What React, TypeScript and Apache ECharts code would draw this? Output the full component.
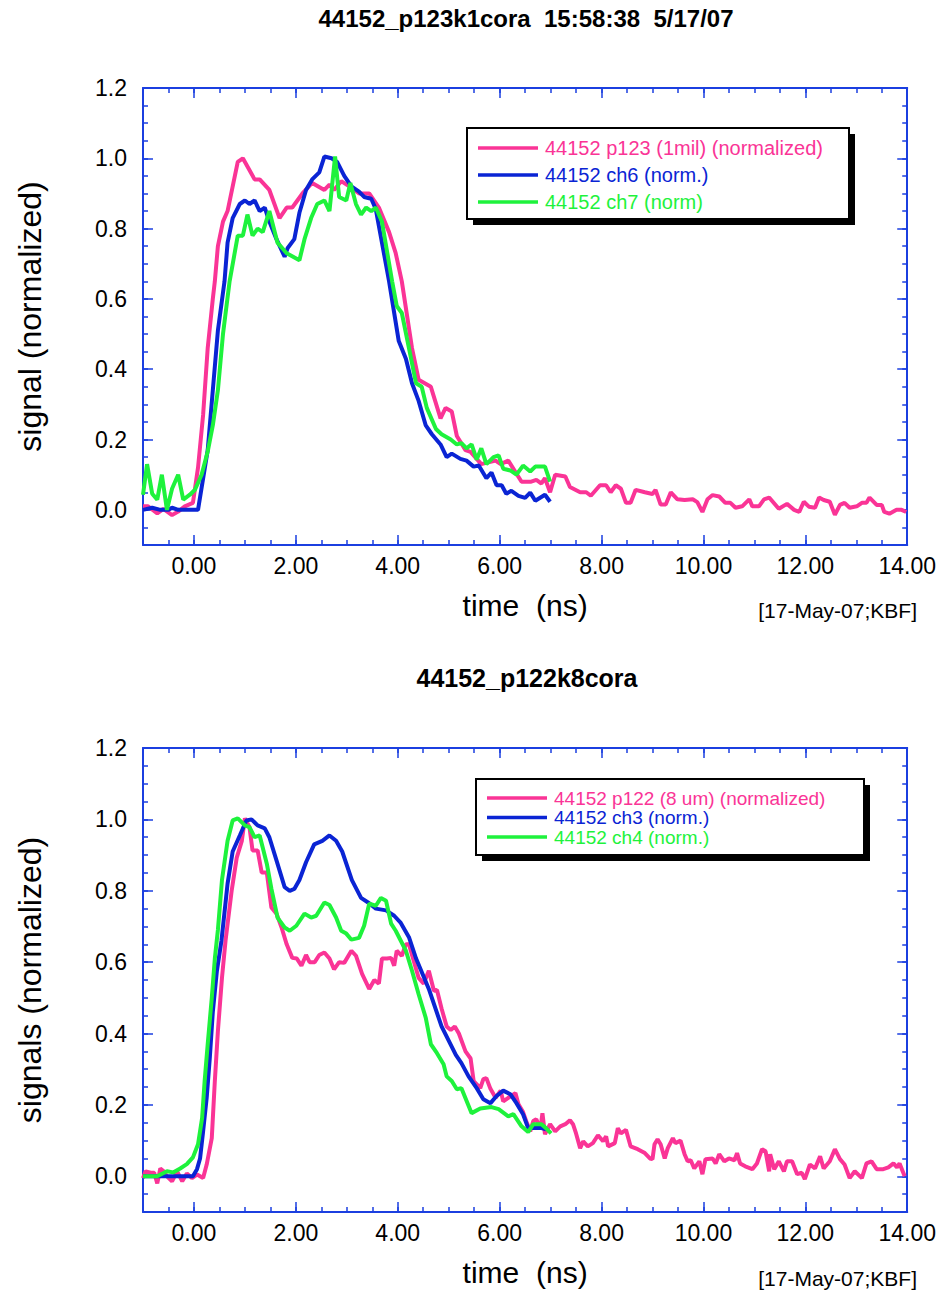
import React, { useEffect, useRef } from "react";
import * as echarts from "echarts";

// ---------- data ----------
const xMajor = [0, 2, 4, 6, 8, 10, 12, 14];
const yMajor = [0, 0.2, 0.4, 0.6, 0.8, 1.0, 1.2];

const topTitle = "44152_p123k1cora  15:58:38  5/17/07";
const bottomTitle = "44152_p122k8cora";
const stamp = "[17-May-07;KBF]";

const topNames = ["44152 p123 (1mil) (normalized)", "44152 ch6 (norm.)", "44152 ch7 (norm)"];
const bottomNames = ["44152 p122 (8 um) (normalized)", "44152 ch3 (norm.)", "44152 ch4 (norm.)"];

const p123 = [[-1.0,0.01],[-0.9,0.01],[-0.72,-0.01],[-0.6,0.003],[-0.43,-0.015],[-0.31,-0.005],[-0.18,0.01],[-0.02,0.02],[0.08,0.12],[0.18,0.27],[0.27,0.46],[0.37,0.6],[0.41,0.65],[0.47,0.75],[0.57,0.82],[0.66,0.85],[0.86,0.99],[0.96,1.0],[1.19,0.94],[1.29,0.94],[1.48,0.91],[1.68,0.83],[1.82,0.86],[1.93,0.86],[2.13,0.9],[2.32,0.93],[2.56,0.91],[2.66,0.925],[2.75,0.91],[2.89,0.935],[3.05,0.92],[3.24,0.9],[3.44,0.9],[3.63,0.86],[3.83,0.79],[3.96,0.73],[4.08,0.65],[4.28,0.46],[4.41,0.37],[4.65,0.35],[4.84,0.26],[4.94,0.29],[5.06,0.28],[5.16,0.21],[5.33,0.17],[5.43,0.165],[5.64,0.13],[5.92,0.14],[6.02,0.13],[6.17,0.14],[6.43,0.08],[6.62,0.08],[6.72,0.085],[6.82,0.075],[6.89,0.09],[6.99,0.05],[7.09,0.1],[7.29,0.095],[7.38,0.065],[7.58,0.05],[7.7,0.05],[7.79,0.04],[7.97,0.07],[8.09,0.07],[8.18,0.05],[8.28,0.07],[8.38,0.06],[8.48,0.02],[8.57,0.02],[8.67,0.057],[8.85,0.05],[9.0,0.045],[9.06,0.057],[9.16,0.015],[9.26,0.015],[9.36,0.05],[9.49,0.03],[9.63,0.028],[9.79,0.03],[9.88,0.022],[9.98,-0.006],[10.08,0.03],[10.18,0.042],[10.31,0.038],[10.43,0.02],[10.53,0.02],[10.63,0.006],[10.76,0.01],[10.9,0.03],[10.96,0.01],[11.09,0.01],[11.19,0.03],[11.29,0.035],[11.48,0.003],[11.64,0.017],[11.78,0],[11.88,-0.006],[11.97,0.023],[12.07,0.009],[12.19,0.006],[12.27,0.035],[12.36,0.028],[12.48,0.023],[12.58,-0.014],[12.68,0.014],[12.77,0.02],[12.87,0.006],[13.01,0.01],[13.11,0.02],[13.2,0.02],[13.26,0.035],[13.4,0.014],[13.5,0.014],[13.55,-0.006],[13.65,-0.011],[13.79,0],[13.89,0],[13.98,-0.006]];

const ch6 = [[-1.0,0],[-0.82,0.006],[-0.66,0],[-0.5,0],[-0.43,0.006],[-0.31,0],[0.08,0],[0.27,0.17],[0.37,0.34],[0.47,0.51],[0.6,0.65],[0.66,0.76],[0.76,0.83],[0.9,0.87],[1.0,0.88],[1.09,0.87],[1.19,0.88],[1.29,0.85],[1.39,0.86],[1.48,0.82],[1.62,0.77],[1.78,0.72],[1.84,0.745],[1.97,0.77],[2.07,0.845],[2.2,0.91],[2.32,0.94],[2.46,0.96],[2.56,1.005],[2.7,1.0],[2.81,0.99],[2.95,0.95],[3.09,0.92],[3.24,0.905],[3.34,0.89],[3.48,0.885],[3.57,0.855],[3.69,0.76],[3.83,0.65],[4.02,0.48],[4.16,0.43],[4.28,0.36],[4.41,0.31],[4.55,0.24],[4.67,0.215],[4.84,0.186],[4.96,0.15],[5.06,0.16],[5.23,0.145],[5.35,0.14],[5.49,0.123],[5.59,0.126],[5.74,0.09],[5.84,0.106],[5.94,0.07],[6.04,0.07],[6.13,0.046],[6.23,0.054],[6.37,0.04],[6.5,0.034],[6.6,0.049],[6.7,0.026],[6.89,0.043],[6.99,0.023]];

const ch7 = [[-1.0,0.043],[-0.92,0.13],[-0.82,0.046],[-0.72,0.029],[-0.63,0.1],[-0.53,0],[-0.43,0.06],[-0.31,0.1],[-0.21,0.029],[-0.08,0.043],[0.02,0.057],[0.15,0.1],[0.27,0.166],[0.37,0.24],[0.47,0.34],[0.57,0.5],[0.7,0.65],[0.86,0.78],[0.96,0.78],[1.05,0.84],[1.15,0.78],[1.25,0.8],[1.35,0.79],[1.48,0.85],[1.64,0.76],[1.82,0.73],[2.07,0.71],[2.17,0.77],[2.3,0.83],[2.42,0.87],[2.56,0.88],[2.66,0.85],[2.77,1.005],[2.85,0.89],[2.99,0.88],[3.07,0.93],[3.18,0.87],[3.28,0.84],[3.38,0.86],[3.48,0.85],[3.57,0.86],[3.69,0.82],[3.89,0.65],[3.98,0.58],[4.08,0.56],[4.22,0.46],[4.36,0.36],[4.47,0.35],[4.57,0.29],[4.75,0.23],[4.86,0.215],[5.04,0.2],[5.16,0.186],[5.25,0.19],[5.35,0.175],[5.45,0.186],[5.55,0.143],[5.64,0.175],[5.74,0.13],[5.88,0.15],[5.98,0.155],[6.07,0.117],[6.21,0.112],[6.33,0.1],[6.46,0.126],[6.6,0.109],[6.7,0.123],[6.89,0.123],[6.99,0.08]];

const p122 = [[-1.0,-0.005],[-0.95,0.014],[-0.85,0.01],[-0.78,0.01],[-0.72,-0.02],[-0.66,0.022],[-0.6,0.015],[-0.53,0],[-0.43,-0.014],[-0.33,0.014],[-0.23,-0.014],[-0.14,0.008],[-0.04,-0.005],[0.06,0.005],[0.18,-0.005],[0.25,0.033],[0.35,0.107],[0.41,0.267],[0.47,0.407],[0.55,0.556],[0.62,0.66],[0.74,0.8],[0.84,0.893],[0.94,0.94],[1.0,1.003],[1.09,0.978],[1.15,0.913],[1.25,0.913],[1.33,0.851],[1.43,0.851],[1.52,0.753],[1.62,0.736],[1.72,0.697],[1.82,0.65],[1.93,0.612],[2.02,0.61],[2.11,0.59],[2.2,0.62],[2.27,0.6],[2.37,0.6],[2.46,0.62],[2.56,0.627],[2.66,0.61],[2.75,0.58],[2.85,0.6],[2.95,0.598],[3.09,0.632],[3.18,0.618],[3.3,0.567],[3.44,0.525],[3.54,0.55],[3.63,0.54],[3.69,0.61],[3.79,0.61],[3.87,0.612],[3.93,0.59],[3.98,0.632],[4.08,0.618],[4.16,0.65],[4.22,0.65],[4.28,0.62],[4.41,0.556],[4.51,0.54],[4.61,0.576],[4.71,0.52],[4.77,0.522],[4.86,0.47],[4.96,0.42],[5.04,0.41],[5.12,0.42],[5.2,0.4],[5.33,0.35],[5.43,0.33],[5.49,0.267],[5.62,0.247],[5.68,0.272],[5.74,0.275],[5.82,0.245],[5.92,0.22],[6.02,0.24],[6.07,0.21],[6.17,0.22],[6.31,0.233],[6.37,0.202],[6.46,0.18],[6.52,0.155],[6.6,0.126],[6.66,0.155],[6.72,0.16],[6.8,0.132],[6.84,0.177],[6.89,0.118],[6.99,0.146],[7.09,0.126],[7.19,0.14],[7.29,0.146],[7.38,0.157],[7.44,0.146],[7.5,0.12],[7.58,0.079],[7.64,0.098],[7.73,0.084],[7.83,0.093],[7.93,0.115],[8.03,0.098],[8.09,0.112],[8.13,0.084],[8.26,0.093],[8.32,0.135],[8.38,0.12],[8.48,0.13],[8.57,0.084],[8.71,0.076],[8.85,0.065],[8.95,0.05],[9.0,0.048],[9.04,0.09],[9.1,0.104],[9.16,0.09],[9.24,0.05],[9.3,0.079],[9.4,0.107],[9.45,0.093],[9.55,0.1],[9.63,0.062],[9.69,0.042],[9.75,0.045],[9.82,0.022],[9.92,0.042],[9.98,0.006],[10.04,0.048],[10.18,0.05],[10.24,0.036],[10.31,0.062],[10.41,0.042],[10.5,0.05],[10.61,0.045],[10.66,0.065],[10.72,0.036],[10.82,0.028],[10.96,0.02],[11.05,0.036],[11.15,0.076],[11.22,0.07],[11.29,0.014],[11.31,0.062],[11.39,0.02],[11.48,0.042],[11.58,0.014],[11.64,0.042],[11.74,0.042],[11.84,0.006],[11.93,0.01],[11.99,-0.008],[12.09,0.033],[12.19,0.022],[12.29,0.056],[12.36,0.022],[12.48,0.042],[12.58,0.076],[12.68,0.048],[12.77,0.033],[12.87,-0.005],[12.97,0.014],[13.11,-0.005],[13.2,0.036],[13.3,0.042],[13.4,0.02],[13.53,0.02],[13.63,0.025],[13.73,0.036],[13.8,0.025],[13.85,0.036],[13.95,0]];

const ch3 = [[-1.0,0],[-0.02,0],[0.06,0.02],[0.12,0.05],[0.18,0.126],[0.25,0.22],[0.31,0.33],[0.37,0.46],[0.45,0.575],[0.54,0.66],[0.66,0.82],[0.76,0.91],[0.9,0.955],[1.03,0.997],[1.13,1.0],[1.25,0.983],[1.39,0.975],[1.48,0.95],[1.62,0.885],[1.78,0.81],[1.88,0.8],[1.97,0.805],[2.07,0.83],[2.2,0.88],[2.36,0.93],[2.52,0.94],[2.66,0.955],[2.79,0.94],[2.91,0.91],[3.1,0.83],[3.28,0.78],[3.44,0.765],[3.57,0.75],[3.77,0.745],[3.93,0.73],[4.06,0.71],[4.22,0.67],[4.36,0.61],[4.61,0.525],[4.86,0.42],[5.14,0.34],[5.25,0.317],[5.39,0.28],[5.55,0.247],[5.68,0.216],[5.82,0.205],[5.94,0.225],[6.07,0.24],[6.21,0.23],[6.33,0.205],[6.46,0.174],[6.56,0.135],[6.7,0.135],[6.82,0.135],[6.91,0.132]];

const ch4 = [[-1.0,0],[-0.72,0],[-0.53,0.014],[-0.41,0.011],[-0.27,0.022],[-0.14,0.034],[-0.02,0.053],[0.08,0.09],[0.16,0.163],[0.21,0.267],[0.27,0.37],[0.35,0.5],[0.41,0.61],[0.47,0.69],[0.55,0.83],[0.66,0.94],[0.76,0.997],[0.86,1.003],[1.0,0.983],[1.09,0.978],[1.19,0.95],[1.29,0.955],[1.43,0.876],[1.52,0.806],[1.64,0.725],[1.78,0.697],[1.88,0.688],[2.01,0.702],[2.17,0.736],[2.3,0.725],[2.4,0.73],[2.56,0.767],[2.66,0.76],[2.79,0.725],[2.89,0.688],[2.99,0.68],[3.09,0.663],[3.24,0.668],[3.34,0.702],[3.44,0.764],[3.57,0.758],[3.67,0.78],[3.77,0.772],[3.87,0.708],[3.96,0.688],[4.06,0.66],[4.16,0.632],[4.28,0.576],[4.41,0.51],[4.55,0.444],[4.65,0.37],[4.77,0.345],[4.9,0.314],[4.96,0.28],[5.06,0.267],[5.16,0.244],[5.25,0.247],[5.45,0.177],[5.62,0.19],[5.84,0.194],[5.98,0.188],[6.17,0.168],[6.27,0.174],[6.43,0.14],[6.56,0.124],[6.66,0.146],[6.82,0.146],[6.91,0.135],[7.01,0.12]];

// ---------- styles ----------
const FONT = "'Liberation Sans', Arial, Helvetica, sans-serif";
const AX = "#1b3fe0";
const PINK = "#fa3496";
const BLUE = "#0a24d4";
const GREEN = "#1ef23c";
const COLORS = [PINK, BLUE, GREEN];

const grids = [
  { left: 143, top: 88, width: 768, height: 457 },
  { left: 143, top: 748, width: 768, height: 464 },
];

function xAxes(g: number) {
  const base = { gridIndex: g, type: "value", min: -1, max: 14, splitLine: { show: false } };
  const major = (pos: string) => ({
    ...base,
    position: pos,
    axisLine: { show: true, onZero: false, lineStyle: { color: AX, width: 2 } },
    axisTick: { show: true, inside: true, length: 10, customValues: xMajor, lineStyle: { color: AX, width: 1.5 } },
    axisLabel: pos === "bottom"
      ? { show: true, customValues: xMajor, formatter: (v: number) => v.toFixed(2), color: "#000", fontSize: 23, fontFamily: FONT, margin: 9 }
      : { show: false },
    name: pos === "bottom" ? "time  (ns)" : "",
    nameLocation: "middle",
    nameGap: 45,
    nameTextStyle: { color: "#000", fontSize: 30, fontFamily: FONT },
  });
  const minor = (pos: string) => ({
    ...base,
    position: pos,
    interval: 0.5,
    axisLine: { show: false, onZero: false },
    axisTick: { show: true, inside: true, length: 5, lineStyle: { color: AX, width: 1.5 } },
    axisLabel: { show: false },
  });
  return [major("bottom"), minor("bottom"), major("top"), minor("top")];
}

function yAxes(g: number, name: string) {
  const base = { gridIndex: g, type: "value", min: -0.1, max: 1.2, splitLine: { show: false } };
  const major = (pos: string) => ({
    ...base,
    position: pos,
    axisLine: { show: true, onZero: false, lineStyle: { color: AX, width: 2 } },
    axisTick: { show: true, inside: true, length: 10, customValues: yMajor, lineStyle: { color: AX, width: 1.5 } },
    axisLabel: pos === "left"
      ? { show: true, customValues: yMajor, formatter: (v: number) => v.toFixed(1), color: "#000", fontSize: 23, fontFamily: FONT, margin: 16 }
      : { show: false },
    name: pos === "left" ? name : "",
    nameLocation: "middle",
    nameGap: 97,
    nameTextStyle: { color: "#000", fontSize: 32, fontFamily: FONT },
  });
  const minor = (pos: string) => ({
    ...base,
    position: pos,
    interval: 0.05,
    axisLine: { show: false, onZero: false },
    axisTick: { show: true, inside: true, length: 5, lineStyle: { color: AX, width: 1.5 } },
    axisLabel: { show: false },
  });
  return [major("left"), minor("left"), major("right"), minor("right")];
}

function legendBox(x: number, y: number, w: number, h: number, rows: number[], lineX: number, textX: number, names: string[], fs: number) {
  const children: any[] = [
    { type: "rect", shape: { x: x + 6, y: y + 6, width: w, height: h }, style: { fill: "#000" } },
    { type: "rect", shape: { x, y, width: w, height: h }, style: { fill: "#fff", stroke: "#000", lineWidth: 2 } },
  ];
  names.forEach((n, i) => {
    children.push({ type: "line", shape: { x1: lineX, y1: rows[i], x2: lineX + 60, y2: rows[i] }, style: { stroke: COLORS[i], lineWidth: 3.5 } });
    children.push({ type: "text", x: textX, y: rows[i], style: { text: n, fill: COLORS[i], font: `${fs}px ${FONT}`, align: "left", verticalAlign: "middle" } });
  });
  return { type: "group", children };
}

function lineSeries(name: string, data: number[][], color: string, axis: number) {
  return {
    name, type: "line", data, xAxisIndex: axis, yAxisIndex: axis,
    showSymbol: false, symbol: "none", clip: true,
    lineStyle: { color, width: 4 }, itemStyle: { color },
  };
}

export default function App() {
  const ref = useRef<HTMLDivElement>(null);
  useEffect(() => {
    document.body.style.margin = "0";
    if (!ref.current) return;
    const chart = echarts.init(ref.current, null, { renderer: "svg" });
    chart.setOption({
      animation: false,
      backgroundColor: "#fff",
      grid: grids,
      xAxis: [...xAxes(0), ...xAxes(1)],
      yAxis: [...yAxes(0, "signal (normalized)"), ...yAxes(1, "signals (normalized)")],
      series: [
        lineSeries(topNames[0], p123, PINK, 0),
        lineSeries(topNames[1], ch6, BLUE, 0),
        lineSeries(topNames[2], ch7, GREEN, 0),
        lineSeries(bottomNames[0], p122, PINK, 4),
        lineSeries(bottomNames[1], ch3, BLUE, 4),
        lineSeries(bottomNames[2], ch4, GREEN, 4),
      ],
      graphic: [
        { type: "text", x: 526, y: 18, style: { text: topTitle, fill: "#000", font: `bold 24px ${FONT}`, align: "center", verticalAlign: "middle" } },
        { type: "text", x: 527, y: 678, style: { text: bottomTitle, fill: "#000", font: `bold 25px ${FONT}`, align: "center", verticalAlign: "middle" } },
        { type: "text", x: 917, y: 610, style: { text: stamp, fill: "#000", font: `21px ${FONT}`, align: "right", verticalAlign: "middle" } },
        { type: "text", x: 917, y: 1278, style: { text: stamp, fill: "#000", font: `21px ${FONT}`, align: "right", verticalAlign: "middle" } },
        legendBox(467, 128, 382, 91, [148, 175, 202], 478, 545, topNames, 20),
        legendBox(476, 779, 388, 76, [798, 817.5, 837], 487, 554, bottomNames, 19),
      ],
    });
    return () => chart.dispose();
  }, []);
  return <div ref={ref} style={{ width: 939, height: 1291 }} />;
}
